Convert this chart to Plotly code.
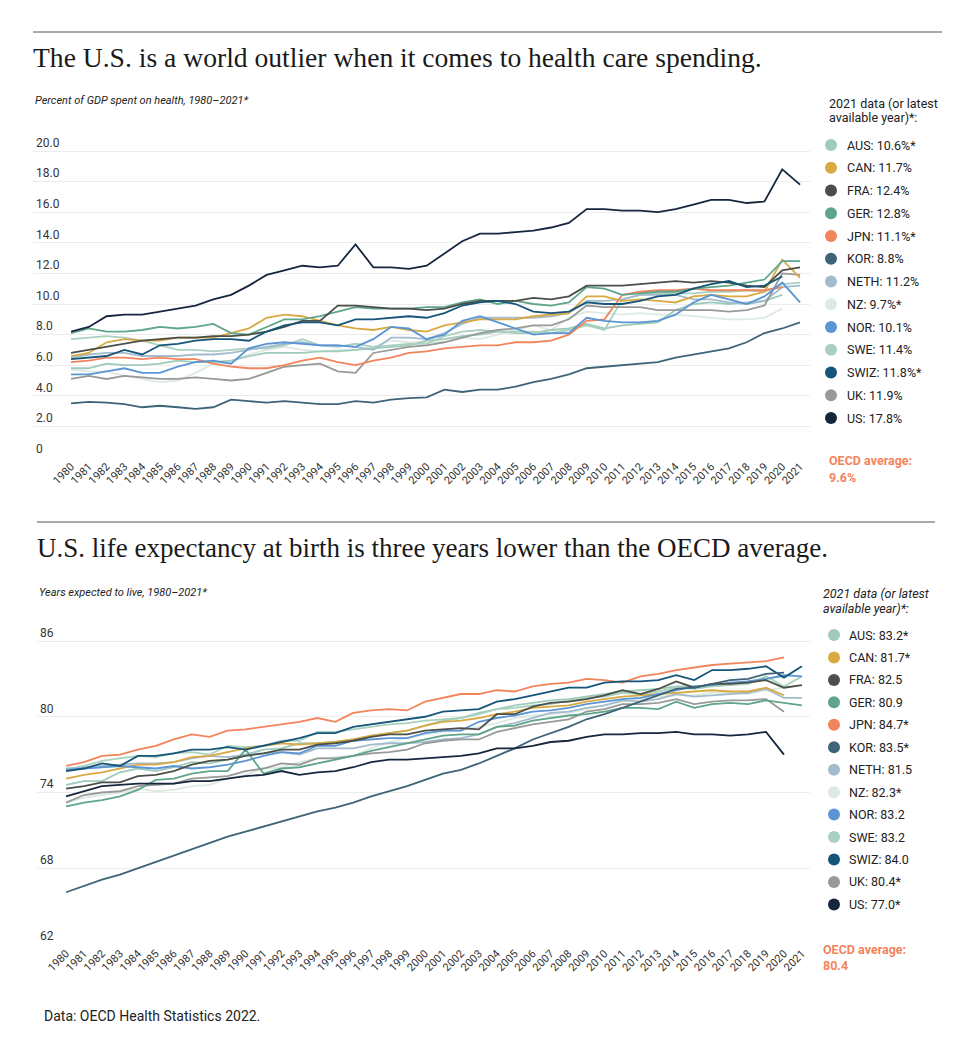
import plotly.graph_objects as go

# ---------------- DATA ----------------
years = list(range(1980, 2022))

countries = ["AUS", "CAN", "FRA", "GER", "JPN", "KOR", "NETH", "NZ", "NOR", "SWE", "SWIZ", "UK", "US"]
colors = ["#9fcbbb", "#d9a942", "#4a4f48", "#5fa58a", "#f2845c", "#3d6478", "#a3bccd",
          "#dde9e3", "#5b95d3", "#a9d1bf", "#155579", "#979a97", "#15263d"]

# Health spending, % of GDP (1980-2021; None = not available)
spend_AUS = [5.8, 5.8, 6.1, 6.0, 6.0, 6.1, 6.3, 6.2, 6.2, 6.3, 6.6, 6.8, 6.8, 6.8, 6.9, 6.9, 7.0, 7.1, 7.2, 7.3, 7.6,
             7.7, 7.9, 8.0, 8.2, 8.1, 8.1, 8.3, 8.4, 8.7, 8.4, 8.6, 8.7, 8.8, 9.6, 10.0, 10.1, 10.0, 10.1, 10.2, 10.6, None]
spend_CAN = [6.6, 6.8, 7.5, 7.7, 7.6, 7.6, 7.8, 7.8, 7.8, 8.1, 8.4, 9.1, 9.3, 9.2, 8.9, 8.6, 8.4, 8.3, 8.5, 8.3, 8.2,
             8.6, 8.8, 9.0, 9.0, 9.0, 9.2, 9.3, 9.4, 10.5, 10.5, 10.2, 10.3, 10.2, 10.1, 10.5, 10.6, 10.5, 10.5, 10.8, 12.9, 11.7]
spend_FRA = [6.8, 7.0, 7.2, 7.4, 7.6, 7.7, 7.8, 7.8, 7.9, 7.9, 8.0, 8.2, 8.5, 8.9, 8.9, 9.9, 9.9, 9.8, 9.7, 9.7, 9.6,
             9.7, 10.0, 10.2, 10.2, 10.2, 10.4, 10.3, 10.5, 11.2, 11.2, 11.2, 11.3, 11.4, 11.5, 11.4, 11.5, 11.4, 11.2, 11.1, 12.2, 12.4]
spend_GER = [8.1, 8.4, 8.2, 8.2, 8.3, 8.5, 8.4, 8.5, 8.7, 8.1, 8.0, 8.5, 9.0, 9.0, 9.2, 9.5, 9.8, 9.7, 9.7, 9.7, 9.8,
             9.8, 10.1, 10.3, 10.0, 10.2, 10.0, 9.9, 10.1, 11.1, 11.0, 10.6, 10.7, 10.8, 10.8, 11.0, 11.1, 11.2, 11.4, 11.6, 12.8, 12.8]
spend_JPN = [6.2, 6.3, 6.5, 6.5, 6.4, 6.5, 6.4, 6.4, 6.1, 5.9, 5.8, 5.8, 6.0, 6.3, 6.5, 6.2, 6.0, 6.3, 6.5, 6.8, 6.9,
             7.1, 7.2, 7.3, 7.3, 7.5, 7.5, 7.6, 8.0, 8.9, 9.0, 10.6, 10.8, 10.9, 10.9, 11.0, 10.9, 10.9, 10.9, 10.9, 11.1, None]
spend_KOR = [3.5, 3.6, 3.55, 3.45, 3.25, 3.35, 3.25, 3.15, 3.25, 3.75, 3.65, 3.55, 3.65, 3.55, 3.45, 3.45, 3.65, 3.55, 3.75, 3.85, 3.9,
             4.4, 4.25, 4.4, 4.4, 4.6, 4.9, 5.1, 5.4, 5.8, 5.9, 6.0, 6.1, 6.2, 6.5, 6.7, 6.9, 7.1, 7.5, 8.1, 8.4, 8.8]
spend_NETH = [6.5, 6.7, 6.8, 6.8, 6.6, 6.6, 6.6, 6.7, 6.7, 6.8, 7.0, 7.2, 7.4, 7.5, 7.3, 7.3, 7.2, 7.0, 7.8, 7.8, 7.7,
              8.1, 8.7, 9.1, 9.1, 9.1, 9.1, 9.2, 9.4, 10.2, 10.2, 10.3, 10.6, 10.6, 10.6, 10.3, 10.3, 10.1, 10.0, 10.2, 11.1, 11.2]
spend_NZ = [5.7, 5.6, 5.6, 5.3, 5.1, 4.9, 5.0, 5.5, 6.1, 6.2, 6.7, 7.0, 7.2, 7.0, 6.9, 7.0, 7.0, 7.2, 7.6, 7.5, 7.5,
            7.5, 7.8, 7.7, 8.0, 8.3, 8.6, 8.3, 9.1, 9.5, 9.4, 9.3, 9.4, 9.3, 9.3, 9.2, 9.1, 9.0, 9.0, 9.1, 9.7, None]
spend_NOR = [5.4, 5.4, 5.6, 5.8, 5.5, 5.5, 5.9, 6.2, 6.3, 6.1, 7.1, 7.4, 7.5, 7.4, 7.3, 7.3, 7.2, 7.7, 8.5, 8.4, 7.7,
             8.0, 8.9, 9.2, 8.8, 8.4, 8.0, 8.1, 8.1, 9.1, 8.9, 8.8, 8.8, 8.9, 9.3, 10.1, 10.6, 10.3, 10.0, 10.5, 11.4, 10.1]
spend_SWE = [7.7, 7.8, 7.9, 7.8, 7.6, 7.3, 7.0, 7.0, 6.9, 7.0, 7.1, 7.1, 7.3, 7.7, 7.3, 7.2, 7.4, 7.2, 7.3, 7.4, 7.4,
             7.9, 8.2, 8.3, 8.2, 8.2, 8.2, 8.1, 8.3, 8.6, 8.3, 10.3, 10.6, 10.7, 10.7, 10.7, 10.8, 10.8, 10.9, 10.8, 11.3, 11.4]
spend_SWIZ = [6.4, 6.5, 6.6, 7.0, 6.7, 7.3, 7.4, 7.6, 7.7, 7.7, 7.6, 8.2, 8.6, 8.8, 8.8, 8.6, 9.0, 9.0, 9.1, 9.2, 9.1,
              9.4, 9.9, 10.1, 10.2, 10.0, 9.5, 9.4, 9.5, 10.1, 10.0, 10.0, 10.2, 10.5, 10.6, 11.0, 11.3, 11.5, 11.1, 11.2, 11.8, None]
spend_UK = [5.1, 5.3, 5.1, 5.3, 5.2, 5.1, 5.1, 5.2, 5.1, 5.0, 5.1, 5.5, 5.9, 6.0, 6.1, 5.6, 5.5, 6.8, 7.0, 7.2, 7.3,
            7.5, 7.8, 8.1, 8.3, 8.4, 8.6, 8.6, 9.0, 9.9, 9.8, 9.8, 9.8, 9.6, 9.6, 9.6, 9.6, 9.5, 9.6, 9.9, 12.0, 11.9]
spend_US = [8.2, 8.5, 9.2, 9.3, 9.3, 9.5, 9.7, 9.9, 10.3, 10.6, 11.2, 11.9, 12.2, 12.5, 12.4, 12.5, 13.9, 12.4, 12.4, 12.3, 12.5,
            13.3, 14.1, 14.6, 14.6, 14.7, 14.8, 15.0, 15.3, 16.2, 16.2, 16.1, 16.1, 16.0, 16.2, 16.5, 16.8, 16.8, 16.6, 16.7, 18.8, 17.8]

# Life expectancy at birth, years (1980-2021; None = not available)
life_AUS = [74.6, 74.9, 74.9, 75.6, 75.9, 75.7, 76.0, 76.4, 76.3, 76.6, 77.0, 77.4, 77.5, 77.9, 77.9, 78.0, 78.2, 78.5, 78.7, 78.9, 79.3,
            79.7, 79.9, 80.3, 80.6, 80.9, 81.1, 81.3, 81.4, 81.6, 81.8, 82.0, 82.1, 82.2, 82.4, 82.4, 82.5, 82.6, 82.8, 83.0, 83.2, None]
life_CAN = [75.1, 75.4, 75.6, 75.9, 76.2, 76.2, 76.4, 76.8, 76.9, 77.2, 77.5, 77.7, 77.9, 77.8, 77.9, 78.0, 78.2, 78.5, 78.7, 78.9, 79.3,
            79.6, 79.7, 79.9, 80.2, 80.4, 80.7, 80.8, 80.9, 81.2, 81.4, 81.6, 81.7, 81.8, 81.9, 82.0, 82.1, 82.0, 82.0, 82.3, 81.7, None]
life_FRA = [74.3, 74.5, 74.8, 74.8, 75.3, 75.4, 75.7, 76.2, 76.5, 76.6, 76.9, 77.1, 77.4, 77.4, 77.8, 77.9, 78.1, 78.4, 78.6, 78.6, 78.9,
            79.0, 79.1, 79.0, 80.2, 80.2, 80.8, 81.1, 81.2, 81.4, 81.7, 82.1, 81.8, 82.2, 82.8, 82.3, 82.6, 82.6, 82.7, 82.9, 82.3, 82.5]
life_GER = [72.9, 73.2, 73.4, 73.7, 74.2, 75.0, 75.1, 75.5, 75.7, 75.7, 77.4, 75.5, 75.9, 76.0, 76.3, 76.6, 76.9, 77.3, 77.6, 77.9, 78.2,
            78.5, 78.6, 78.6, 79.2, 79.3, 79.7, 79.9, 80.1, 80.2, 80.4, 80.7, 80.7, 80.6, 81.2, 80.7, 81.0, 81.1, 81.0, 81.3, 81.1, 80.9]
life_JPN = [76.1, 76.4, 76.9, 77.0, 77.4, 77.7, 78.2, 78.6, 78.4, 78.9, 79.0, 79.2, 79.4, 79.6, 79.9, 79.6, 80.3, 80.5, 80.6, 80.5, 81.2,
            81.5, 81.8, 81.8, 82.1, 82.0, 82.4, 82.6, 82.7, 83.0, 82.9, 82.7, 83.2, 83.4, 83.7, 83.9, 84.1, 84.2, 84.3, 84.4, 84.7, None]
life_KOR = [66.1, 66.6, 67.1, 67.5, 68.0, 68.5, 69.0, 69.5, 70.0, 70.5, 70.9, 71.3, 71.7, 72.1, 72.5, 72.8, 73.2, 73.7, 74.1, 74.5, 75.0,
            75.5, 75.8, 76.3, 76.9, 77.5, 78.2, 78.7, 79.2, 79.8, 80.2, 80.7, 81.2, 81.7, 82.2, 82.3, 82.6, 82.9, 83.0, 83.4, 83.5, None]
life_NETH = [75.9, 76.0, 76.1, 76.2, 76.3, 76.3, 76.4, 76.7, 76.9, 76.8, 77.0, 77.1, 77.2, 77.0, 77.5, 77.5, 77.5, 77.8, 77.9, 77.9, 78.0,
             78.2, 78.3, 78.6, 79.2, 79.5, 79.9, 80.3, 80.4, 80.7, 80.9, 81.3, 81.2, 81.4, 81.8, 81.6, 81.7, 81.8, 81.9, 82.2, 81.5, 81.5]
life_NZ = [73.2, 73.6, 73.8, 74.0, 74.3, 74.1, 74.2, 74.5, 74.6, 75.1, 75.4, 75.9, 76.0, 76.4, 76.7, 76.8, 76.9, 77.5, 78.0, 78.3, 78.6,
           78.8, 78.9, 79.2, 79.5, 79.9, 80.1, 80.2, 80.3, 80.6, 80.9, 81.2, 81.4, 81.6, 81.7, 81.7, 81.9, 81.9, 81.8, 82.1, 82.3, None]
life_NOR = [75.8, 75.9, 76.0, 76.1, 76.0, 75.9, 76.1, 75.9, 76.0, 76.2, 76.5, 76.9, 77.2, 77.1, 77.7, 77.7, 78.1, 78.2, 78.3, 78.3, 78.7,
            78.9, 78.9, 79.6, 79.9, 80.1, 80.4, 80.5, 80.7, 81.0, 81.2, 81.4, 81.5, 81.8, 82.1, 82.4, 82.5, 82.7, 82.8, 83.0, 83.3, 83.2]
life_SWE = [75.8, 76.1, 76.5, 76.7, 76.9, 76.8, 77.1, 77.2, 77.0, 77.7, 77.6, 77.7, 78.1, 78.1, 78.8, 78.8, 79.0, 79.2, 79.4, 79.5, 79.7,
            79.8, 79.9, 80.2, 80.6, 80.7, 80.9, 81.0, 81.3, 81.5, 81.6, 81.9, 81.8, 82.0, 82.3, 82.2, 82.4, 82.5, 82.6, 83.2, 82.4, 83.2]
life_SWIZ = [75.7, 75.9, 76.3, 76.1, 76.9, 76.9, 77.1, 77.4, 77.4, 77.6, 77.4, 77.7, 78.0, 78.3, 78.7, 78.7, 79.2, 79.4, 79.6, 79.8, 80.0,
             80.4, 80.5, 80.6, 81.2, 81.4, 81.7, 82.0, 82.3, 82.3, 82.7, 82.8, 82.8, 82.9, 83.3, 82.9, 83.7, 83.7, 83.8, 84.0, 83.1, 84.0]
life_UK = [73.2, 73.8, 74.0, 74.1, 74.5, 74.6, 74.7, 75.1, 75.2, 75.3, 75.7, 75.9, 76.3, 76.2, 76.7, 76.7, 76.9, 77.1, 77.2, 77.4, 77.9,
           78.1, 78.2, 78.2, 78.8, 79.1, 79.4, 79.6, 79.8, 80.4, 80.6, 81.0, 81.0, 81.1, 81.4, 81.0, 81.2, 81.3, 81.3, 81.4, 80.4, None]
life_US = [73.7, 74.1, 74.5, 74.6, 74.7, 74.7, 74.7, 74.9, 74.9, 75.1, 75.3, 75.4, 75.7, 75.4, 75.6, 75.7, 76.0, 76.4, 76.6, 76.6, 76.7,
           76.8, 76.9, 77.1, 77.5, 77.5, 77.7, 78.0, 78.1, 78.4, 78.6, 78.6, 78.7, 78.7, 78.8, 78.6, 78.6, 78.5, 78.6, 78.8, 77.0, None]

spend_series = [spend_AUS, spend_CAN, spend_FRA, spend_GER, spend_JPN, spend_KOR, spend_NETH,
                spend_NZ, spend_NOR, spend_SWE, spend_SWIZ, spend_UK, spend_US]
life_series = [life_AUS, life_CAN, life_FRA, life_GER, life_JPN, life_KOR, life_NETH,
               life_NZ, life_NOR, life_SWE, life_SWIZ, life_UK, life_US]

spend_labels = ["AUS: 10.6%*", "CAN: 11.7%", "FRA: 12.4%", "GER: 12.8%", "JPN: 11.1%*", "KOR: 8.8%",
                "NETH: 11.2%", "NZ: 9.7%*", "NOR: 10.1%", "SWE: 11.4%", "SWIZ: 11.8%*", "UK: 11.9%", "US: 17.8%"]
life_labels = ["AUS: 83.2*", "CAN: 81.7*", "FRA: 82.5", "GER: 80.9", "JPN: 84.7*", "KOR: 83.5*",
               "NETH: 81.5", "NZ: 82.3*", "NOR: 83.2", "SWE: 83.2", "SWIZ: 84.0", "UK: 80.4*", "US: 77.0*"]

spend_ticks = [0, 2, 4, 6, 8, 10, 12, 14, 16, 18, 20]
spend_ticktext = ["0", "2.0", "4.0", "6.0", "8.0", "10.0", "12.0", "14.0", "16.0", "18.0", "20.0"]
life_ticks = [62, 68, 74, 80, 86]

spend_oecd = "9.6%"
life_oecd = "80.4"

# ---------------- FIGURE ----------------
W, H = 960, 1049
def px(x): return x / W
def py(y): return 1 - y / H

SANS = "Roboto, Inter, Arial, sans-serif"
SERIF = "Liberation Serif, DejaVu Serif, serif"
TXT = "#222222"

fig = go.Figure()

# draw order: light lines first, dark on top
order = [7, 0, 9, 6, 11, 1, 4, 8, 3, 2, 10, 5, 12]
for i in order:
    fig.add_trace(go.Scatter(x=years, y=spend_series[i], mode="lines", name=countries[i],
                             line=dict(color=colors[i], width=1.8), xaxis="x", yaxis="y",
                             showlegend=False, connectgaps=False))
for i in order:
    fig.add_trace(go.Scatter(x=years, y=life_series[i], mode="lines", name=countries[i],
                             line=dict(color=colors[i], width=1.8), xaxis="x2", yaxis="y2",
                             showlegend=False, connectgaps=False))

xcommon = dict(tickmode="array", tickvals=years, ticktext=[str(y) for y in years],
               tickangle=-45, tickfont=dict(family=SANS, size=11, color="#333333"),
               showgrid=False, zeroline=False, showline=False, ticks="", ticklen=0)
ycommon = dict(showgrid=True, gridcolor="#ececec", gridwidth=1, zeroline=False, showline=False,
               ticks="", ticklabelposition="inside top",
               tickfont=dict(family=SANS, size=12, color="#333333"))

# pixel geometry: top chart 0..20 from y=457 to y=151 (15.3 px/unit), padded on top for labels
fig.update_layout(
    width=W, height=H,
    margin=dict(l=0, r=0, t=0, b=0),
    paper_bgcolor="white", plot_bgcolor="white",
    xaxis=dict(domain=[px(33), px(810)], range=[1977.86, 2021.56], anchor="y", **xcommon),
    yaxis=dict(domain=[py(457), py(151 - 15.3 * 1.3)], range=[0, 21.3], anchor="x",
               tickmode="array", tickvals=spend_ticks, ticktext=spend_ticktext, **ycommon),
    xaxis2=dict(domain=[px(37), px(810)], range=[1978.38, 2021.45], anchor="y2", **xcommon),
    yaxis2=dict(domain=[py(944), py(641 - 12.625 * 1.6)], range=[62, 87.6], anchor="x2",
                tickmode="array", tickvals=life_ticks, ticktext=[str(v) for v in life_ticks], **ycommon),
)

shapes = []
annotations = []

# rules
shapes.append(dict(type="line", xref="paper", yref="paper", x0=px(33), x1=px(942), y0=py(32), y1=py(32),
                   line=dict(color="#555555", width=1)))
shapes.append(dict(type="line", xref="paper", yref="paper", x0=px(37), x1=px(935), y0=py(522), y1=py(522),
                   line=dict(color="#555555", width=1)))

def text(x, y, s, size, family=SANS, color=TXT, italic=False, bold=False, xanchor="left"):
    if italic:
        s = "<i>" + s + "</i>"
    if bold:
        s = "<b>" + s + "</b>"
    annotations.append(dict(xref="paper", yref="paper", x=px(x), y=py(y), text=s, showarrow=False,
                            xanchor=xanchor, yanchor="middle", align="left",
                            font=dict(family=family, size=size, color=color)))

# titles
text(31, 57, "The U.S. is a world outlier when it comes to health care spending.", 27.6, family=SERIF, color="#1a1a1a")
text(33, 101, "Percent of GDP spent on health, 1980–2021*", 11, italic=True)
text(35, 548, "U.S. life expectancy at birth is three years lower than the OECD average.", 27, family=SERIF, color="#1a1a1a")
text(37, 592, "Years expected to live, 1980–2021*", 11, italic=True)

# legends
def legend(header_x, header_y, dot_x, text_x, first_y, step, labels, italic_header, oecd_x, oecd_y, oecd_val):
    text(header_x, header_y, "2021 data (or latest", 12.5, italic=italic_header)
    text(header_x, header_y + 15, "available year)*:", 12.5, italic=italic_header)
    for k, lab in enumerate(labels):
        yy = first_y + k * step
        r = 6
        shapes.append(dict(type="circle", xref="paper", yref="paper",
                           x0=px(dot_x - r), x1=px(dot_x + r), y0=py(yy - r), y1=py(yy + r),
                           fillcolor=colors[k], line=dict(width=0)))
        text(text_x, yy, lab, 12.5)
    text(oecd_x, oecd_y, "OECD average:", 12.5, color="#f2845c", bold=True)
    text(oecd_x, oecd_y + 16, oecd_val, 12.5, color="#f2845c", bold=True)

legend(827, 103, 831, 845, 145, 22.75, spend_labels, False, 827, 461, spend_oecd)
legend(821, 593, 834, 847, 635, 22.45, life_labels, True, 821, 949, life_oecd)

# footer
text(42, 1016, "Data: OECD Health Statistics 2022.", 14, color="#222222")

fig.update_layout(shapes=shapes, annotations=annotations)

fig.write_html("out.html", config={"displayModeBar": False},
               post_script="document.body.style.margin='0px';document.body.style.overflow='hidden';")
